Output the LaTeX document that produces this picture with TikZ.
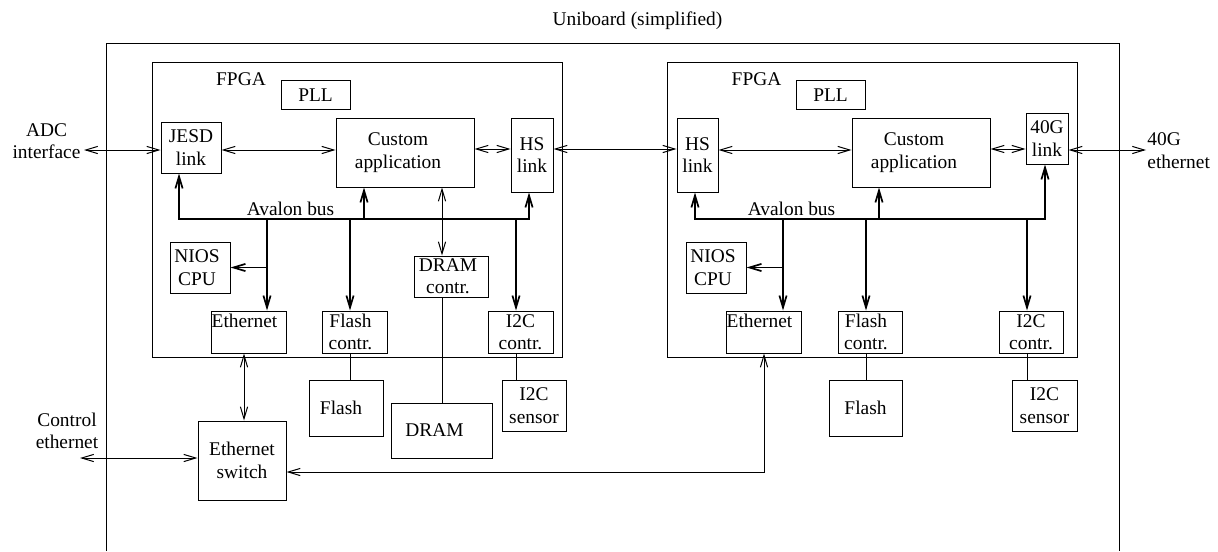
\documentclass[tikz,border=0pt]{standalone}
\usepackage{fontspec}
\setmainfont{Liberation Serif}
\usetikzlibrary{arrows.meta}
\begin{document}
\begin{tikzpicture}[x=0.5pt,y=-0.5pt,
  every node/.style={font=\fontsize{9.7}{11.2}\selectfont, inner sep=0pt},
  blk/.style 2 args={draw, line width=0.5pt, minimum width=#1*0.5pt, minimum height=#2*0.5pt, align=center},
  lbl/.style={align=center},
  >={Straight Barb[length=6pt,width=3.6pt]},
  wire/.style={line width=0.5pt},
  bus/.style={line width=0.85pt}]
\useasboundingbox (0,0) rectangle (1218,551);

% board outline, open at the bottom
\draw[wire] (106,551) -- (106,44) -- (1119,44) -- (1119,551);
\node[anchor=base] (title) at (637.5,26) {Uniboard (simplified)};

% ---------------- first FPGA ----------------
\node[blk={410}{294}] (fpgaA) at (357,210) {};
\node[anchor=base] (fpgaAlbl) at (241,86) {FPGA};
\node[blk={69}{28}] (pllA) at (315.5,95) {PLL};
\node[blk={60}{51}] (jesd) at (191,147.5) {JESD\\link};
\node[blk={138}{69}] (custA) at (405,152.5) {Custom\hspace*{7pt}\\application\hspace*{7pt}};
\node[blk={42}{74}] (hsA) at (532,155) {HS\\link};
\node[blk={60}{51}] (niosA) at (200,267.5) {NIOS\hspace*{3pt}\\CPU\hspace*{3pt}};
\node[blk={74}{41}] (dramcA) at (451,276.5) {DRAM\hspace*{3pt}\\contr.\hspace*{3pt}};
\node[blk={74}{42}] (ethA) at (249,332) {Ethernet\hspace*{4.5pt}\\\mbox{}};
\node[blk={65}{42}] (flcA) at (354.5,332) {Flash\hspace*{4pt}\\contr.\hspace*{4pt}};
\node[blk={65}{42}] (i2cA) at (520.5,332) {I2C\\contr.};
\node[anchor=base] (busAlbl) at (290.5,215) {Avalon bus};

% external parts of the first FPGA
\node[blk={74}{56}] (flashA) at (346,408) {Flash\hspace*{5pt}};
\node[blk={101}{55}] (dram) at (441.5,430.5) {DRAM\hspace*{7pt}};
\node[blk={64}{51}] (sensA) at (534,405.5) {I2C\\sensor};
\node[blk={88}{79}] (switch) at (242,460.5) {Ethernet\\switch};

% ---------------- second FPGA ----------------
\node[blk={410}{294}] (fpgaB) at (872,210) {};
\node[anchor=base] (fpgaBlbl) at (756.5,86) {FPGA};
\node[blk={69}{28}] (pllB) at (830.5,95) {PLL};
\node[blk={41}{74}] (hsB) at (697.5,155) {HS\\link};
\node[blk={138}{69}] (custB) at (921,152.5) {Custom\hspace*{7pt}\\application\hspace*{7pt}};
\node[blk={42}{51}] (g40) at (1047,138.5) {40G\\link};
\node[blk={60}{51}] (niosB) at (716,267.5) {NIOS\hspace*{3pt}\\CPU\hspace*{3pt}};
\node[blk={74}{42}] (ethB) at (764,332) {Ethernet\hspace*{4.5pt}\\\mbox{}};
\node[blk={64}{42}] (flcB) at (870,332) {Flash\hspace*{4pt}\\contr.\hspace*{4pt}};
\node[blk={64}{42}] (i2cB) at (1031,332) {I2C\\contr.};
\node[anchor=base] (busBlbl) at (791.5,215) {Avalon bus};

\node[blk={73}{56}] (flashB) at (865.5,408) {Flash};
\node[blk={65}{51}] (sensB) at (1044.5,405.5) {I2C\\sensor};

% outside labels
\node[lbl] (adclbl) at (46.5,141) {ADC\\interface};
\node[lbl] (ctrllbl) at (67,431) {Control\\ethernet};
\node[align=left, anchor=west] (g40lbl) at (1147,150.5) {40G\\ethernet};
\coordinate (adc) at (84,150);
\coordinate (ctrl) at (80,458);
\coordinate (g40out) at (1146,150);

% ---------------- data links ----------------
\draw[wire,<->] (adc) -- (jesd.west |- adc);
\draw[wire,<->] (jesd.east |- adc) -- (custA.west |- adc);
\draw[wire,<->] (custA.east |- 0,149) -- (hsA.west |- 0,149);
\draw[wire,<->] (hsA.east |- 0,149) -- (hsB.west |- 0,149);
\draw[wire,<->] (hsB.east |- adc) -- (custB.west |- adc);
\draw[wire,<->] (custB.east |- 0,149) -- (g40.west |- 0,149);
\draw[wire,<->] (g40.east |- g40out) -- (g40out);
\draw[wire,<->] (442,0 |- custA.south) -- (442,0 |- dramcA.north);

% ---------------- Avalon bus, first FPGA ----------------
\draw[bus,<->] (179,0 |- jesd.south) -- (179,219) -- (529,219) -- (529,0 |- hsA.south);
\draw[bus,->] (364,219) -- (364,0 |- custA.south);
\draw[bus,->] (267,219) -- (267,0 |- ethA.north);
\draw[bus,->] (267,0 |- niosA.east) -- (niosA.east);
\draw[bus,->] (350,219) -- (350,0 |- flcA.north);
\draw[bus,->] (516,219) -- (516,0 |- i2cA.north);

% ---------------- Avalon bus, second FPGA ----------------
\draw[bus,<->] (695,0 |- hsB.south) -- (695,219) -- (1045,219) -- (1045,0 |- g40.south);
\draw[bus,->] (879,219) -- (879,0 |- custB.south);
\draw[bus,->] (783,219) -- (783,0 |- ethB.north);
\draw[bus,->] (783,0 |- niosB.east) -- (niosB.east);
\draw[bus,->] (866,219) -- (866,0 |- flcB.north);
\draw[bus,->] (1027,219) -- (1027,0 |- i2cB.north);

% ---------------- board-level wiring ----------------
\draw[wire] (350,0 |- flcA.south) -- (350,0 |- flashA.north);
\draw[wire] (442,0 |- dramcA.south) -- (442,0 |- dram.north);
\draw[wire] (516,0 |- i2cA.south) -- (516,0 |- sensA.north);
\draw[wire] (866,0 |- flcB.south) -- (866,0 |- flashB.north);
\draw[wire] (1027,0 |- i2cB.south) -- (1027,0 |- sensB.north);

\draw[wire,<->] (244,0 |- ethA.south) -- (244,0 |- switch.north);
\draw[wire,<->] (ctrl) -- (switch.west |- ctrl);
\draw[wire,<->] (switch.east |- 0,472) -- (764,472) -- (ethB.south);
\end{tikzpicture}
\end{document}
